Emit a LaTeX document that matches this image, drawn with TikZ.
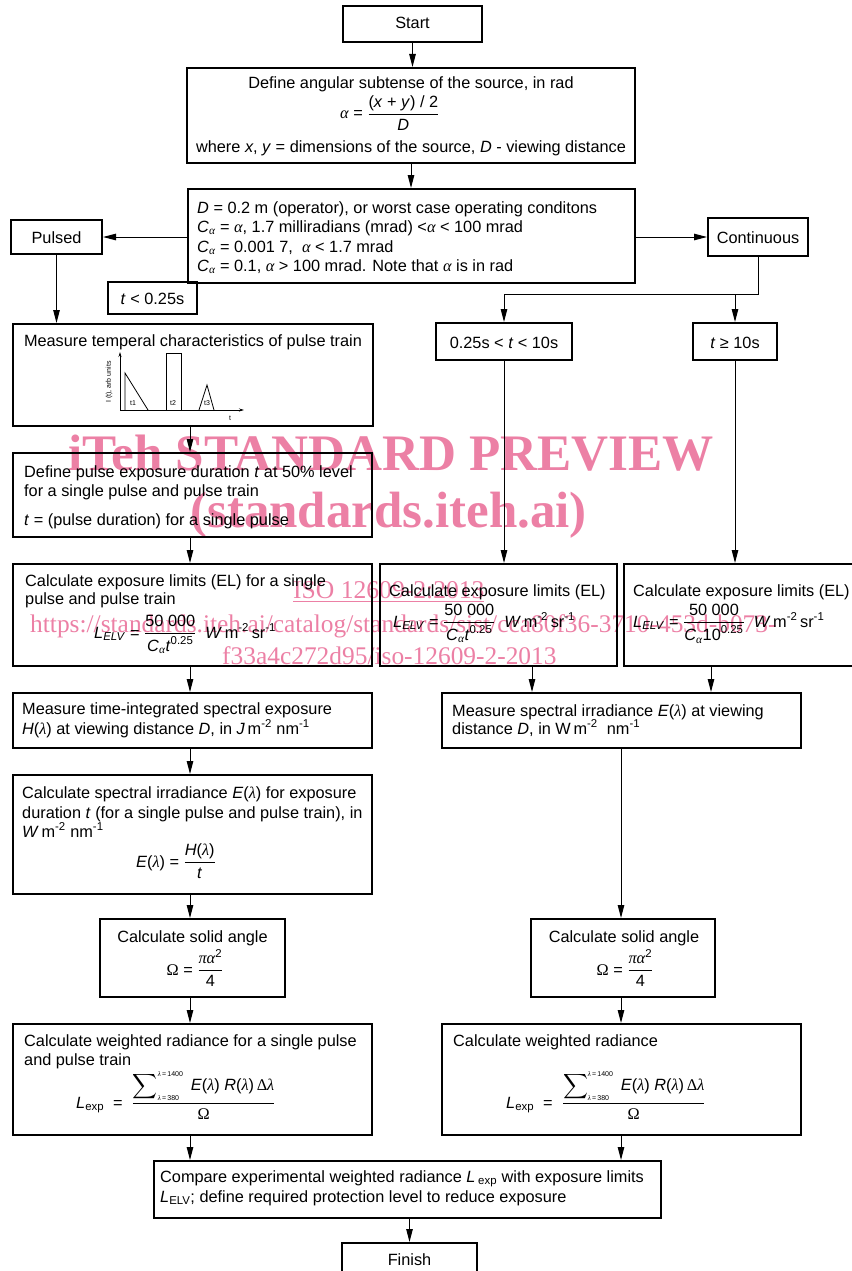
\documentclass[tikz,border=0pt]{standalone}
\usepackage{amsmath}
\usepackage{fontspec}
\setmainfont{Liberation Sans}
\newfontfamily\grk{Liberation Serif}
\newfontfamily\wmfont{Liberation Serif}
\usetikzlibrary{arrows.meta}
\definecolor{wmc}{RGB}{236,128,165}
\newcommand{\fsz}{\fontsize{16.3}{19.5}\selectfont}
\newcommand{\myal}{\text{\grk\itshape α}}
\newcommand{\mylam}{\text{\grk\itshape λ}}
\newcommand{\myOm}{\text{\grk Ω}}
\newcommand{\mypi}{\text{\grk\itshape π}}
\newcommand{\myDe}{\text{\grk Δ}}
\newcommand{\myfrac}[2]{\genfrac{}{}{0.9pt}{0}{#1}{#2}}
\newcommand{\LELV}{\textit{L}\textsubscript{\textit{ELV}}}
\newcommand{\Lsum}{$\myfrac{\displaystyle\sum\nolimits_{\text{\fontsize{7}{7}\selectfont\mylam\,=\,380}}^{\text{\fontsize{7}{7}\selectfont\mylam\,=\,1400}}\ \text{\textit{E}(\mylam)\ \textit{R}(\mylam)\,\myDe\mylam}}{\myOm}$}
\begin{document}
\begin{tikzpicture}[x=1pt,y=-1pt,
 box/.style={draw, line width=2pt, inner sep=0pt},
 lnw/.style={anchor=base west, inner sep=0pt, font=\fsz},
 lnc/.style={anchor=base, inner sep=0pt, font=\fsz},
 arr/.style={line width=1pt, -{Triangle[length=13pt,width=6.5pt]}},
 conn/.style={line width=1pt},
 gl/.style={line width=0.8pt},
 tiny/.style={inner sep=0pt, font=\fontsize{7}{7}\selectfont},
 wm/.style={anchor=base west, inner sep=0pt, text=wmc}]
\useasboundingbox (0,0) rectangle (851,1271);

% watermark (behind)
\node[wm, font=\fontsize{51.2}{51}\selectfont\wmfont\bfseries] (wm1) at (68,470) {iTeh STANDARD PREVIEW};
\node[wm, font=\fontsize{51}{51}\selectfont\wmfont\bfseries] (wm2) at (190,527) {(standards.iteh.ai)};
\node[wm, font=\fontsize{25.6}{26}\selectfont\wmfont] (wm3) at (293,598) {\underline{ISO 12609-2:2013}};
\node[wm, font=\fontsize{25.4}{26}\selectfont\wmfont] (wm4) at (30,632) {https://standards.iteh.ai/catalog/standards/sist/cca80f36-3710-453d-b073-};
\node[wm, font=\fontsize{25.4}{26}\selectfont\wmfont] (wm5) at (222,664) {f33a4c272d95/iso-12609-2-2013};

% boxes
\node[box, minimum width=139pt, minimum height=36pt] (start) at (412.5,24) {};
\node[box, minimum width=448pt, minimum height=95pt] (def) at (411,115.5) {};
\node[box, minimum width=447pt, minimum height=94pt] (dbox) at (411.5,236) {};
\node[box, minimum width=91pt, minimum height=34pt] (pulsed) at (56.5,237) {};
\node[box, minimum width=100pt, minimum height=38pt] (cont) at (758,237) {};
\node[box, minimum width=89pt, minimum height=32pt] (tlt) at (152.5,298) {};
\node[box, minimum width=360pt, minimum height=102pt] (meas1) at (193,375) {};
\node[box, minimum width=136pt, minimum height=37pt] (tmid) at (504,341.5) {};
\node[box, minimum width=84pt, minimum height=37pt] (tge) at (735,341.5) {};
\node[box, minimum width=359pt, minimum height=84pt] (defp) at (192.5,495) {};
\node[box, minimum width=359pt, minimum height=102pt] (el1) at (192.5,615) {};
\node[box, minimum width=237pt, minimum height=102pt] (el2) at (498.5,615) {};
\node[box, minimum width=229pt, minimum height=102pt] (el3) at (738.5,615) {};
\node[box, minimum width=359pt, minimum height=55pt] (mti) at (192.5,720.5) {};
\node[box, minimum width=359pt, minimum height=55pt] (msi) at (621.5,720.5) {};
\node[box, minimum width=359pt, minimum height=119pt] (csi) at (192.5,834.5) {};
\node[box, minimum width=185pt, minimum height=78pt] (sa1) at (192.5,958) {};
\node[box, minimum width=184pt, minimum height=78pt] (sa2) at (623,958) {};
\node[box, minimum width=359pt, minimum height=111pt] (wr1) at (192.5,1079.5) {};
\node[box, minimum width=359pt, minimum height=111pt] (wr2) at (621.5,1079.5) {};
\node[box, minimum width=507pt, minimum height=57pt] (cmp) at (407.5,1189.5) {};
\node[box, minimum width=135pt, minimum height=47pt] (fin) at (409.5,1266.5) {};

% texts
\node[lnc] (startt) at (412.5,29) {Start};
\node[lnc] (def1) at (411,89) {Define angular subtense of the source, in rad};
\node[lnw] (def2) at (340,119) {\myal\ = $\myfrac{\text{(\textit{x} + \textit{y}) / 2}}{\text{\textit{D}}}$};
\node[lnc] (def3) at (411,152) {where \textit{x}, \textit{y} = dimensions of the source, \textit{D} - viewing distance};

\node[lnw] (d1) at (197,213) {\textit{D} = 0.2 m (operator), or worst case operating conditons};
\node[lnw] (d2) at (197,232) {\textit{C}\textsubscript{\myal} = \myal, 1.7 milliradians (mrad) <\myal{} < 100 mrad};
\node[lnw] (d3) at (197,252) {\textit{C}\textsubscript{\myal} = 0.001 7,\ \ \myal{} < 1.7 mrad};
\node[lnw] (d4) at (197,271) {\textit{C}\textsubscript{\myal} = 0.1, \myal{} > 100 mrad. Note that \myal{} is in rad};

\node[lnc] (pulsedt) at (56.5,243) {Pulsed};
\node[lnc] (contt) at (758,243) {Continuous};
\node[lnc] (tltt) at (152.5,304) {\textit{t} < 0.25s};
\node[lnc] (tmidt) at (504,348) {0.25s < \textit{t} < 10s};
\node[lnc] (tget) at (735,348) {\textit{t} ≥ 10s};

\node[lnc] (meas1t) at (193,346) {Measure temperal characteristics of pulse train};
% pulse train sketch
\draw[gl, -{Stealth[length=5pt,width=3pt]}] (120,410) -- (120,352);
\draw[gl, -{Stealth[length=5pt,width=3pt]}] (120,410) -- (244,410);
\draw[gl] (125,410) -- (125,373) -- (148,410);
\draw[gl] (166,410) -- (166,353) -- (181,353) -- (181,410);
\draw[gl] (199,410) -- (207,385) -- (214,410);
\node[tiny] (gt1) at (133,403) {t1};
\node[tiny] (gt2) at (173,403) {t2};
\node[tiny] (gt3) at (207,403) {t3};
\node[tiny] (gtt) at (230,418) {t};
\node[tiny, rotate=90] (gy) at (109,382) {I (t), arb units};

\node[lnw] (dp1) at (24,477) {Define pulse exposure duration \textit{t} at 50\% level};
\node[lnw] (dp2) at (24,496) {for a single pulse and pulse train};
\node[lnw] (dp3) at (24,525) {\textit{t} = (pulse duration) for a single pulse};

\node[lnw] (e11) at (25,586) {Calculate exposure limits (EL) for a single};
\node[lnw] (e12) at (25,604) {pulse and pulse train};
\node[lnw] (e13) at (94,638) {\LELV\ = $\myfrac{\text{50 000}}{\text{\textit{C}}_{\myal}\text{\textit{t}}^{\text{0.25}}}$\ \ \textit{W}\,m\textsuperscript{-2}\,sr\textsuperscript{-1}};
\node[lnw] (e21) at (389,596) {Calculate exposure limits (EL)};
\node[lnw] (e22) at (393,627) {\LELV\ = $\myfrac{\text{50 000}}{\text{\textit{C}}_{\myal}\text{\textit{t}}^{\text{0.25}}}$\ \ \textit{W}\,m\textsuperscript{-2}\,sr\textsuperscript{-1}};
\node[lnw] (e31) at (633,596) {Calculate exposure limits (EL)};
\node[lnw] (e32) at (633,627) {\LELV\ = $\myfrac{\text{50 000}}{\text{\textit{C}}_{\myal}\text{10}^{\text{0.25}}}$\ \ \textit{W}\,m\textsuperscript{-2}\,sr\textsuperscript{-1}};

\node[lnw] (mt1) at (22,714) {Measure time-integrated spectral exposure};
\node[lnw] (mt2) at (22,734) {\textit{H}(\mylam) at viewing distance \textit{D}, in \textit{J}\,m\textsuperscript{-2} nm\textsuperscript{-1}};
\node[lnw] (ms1) at (452,716) {Measure spectral irradiance \textit{E}(\mylam) at viewing};
\node[lnw] (ms2) at (452,734) {distance \textit{D}, in W\,m\textsuperscript{-2}\ \ nm\textsuperscript{-1}};

\node[lnw] (cs1) at (22,798) {Calculate spectral irradiance \textit{E}(\mylam) for exposure};
\node[lnw] (cs2) at (22,818) {duration \textit{t} (for a single pulse and pulse train), in};
\node[lnw] (cs3) at (22,837) {\textit{W}\,m\textsuperscript{-2}\ nm\textsuperscript{-1}};
\node[lnw] (cs4) at (136,867) {\textit{E}(\mylam) = $\myfrac{\text{\textit{H}(\mylam)}}{\text{\textit{t}}}$};

\node[lnc] (sa1a) at (192.5,942) {Calculate solid angle};
\node[lnc] (sa1b) at (195,975) {\myOm\ = $\myfrac{\mypi\myal^{\text{2}}}{\text{4}}$};
\node[lnc] (sa2a) at (624,942) {Calculate solid angle};
\node[lnc] (sa2b) at (625,975) {\myOm\ = $\myfrac{\mypi\myal^{\text{2}}}{\text{4}}$};

\node[lnw] (w11) at (24,1046) {Calculate weighted radiance for a single pulse};
\node[lnw] (w12) at (24,1065) {and pulse train};
\node[lnw] (w13) at (76,1108) {\textit{L}\textsubscript{exp}\ \ =\ \ \Lsum};
\node[lnw] (w21) at (453,1046) {Calculate weighted radiance};
\node[lnw] (w22) at (506,1108) {\textit{L}\textsubscript{exp}\ \ =\ \ \Lsum};

\node[lnw] (c1) at (160,1182) {Compare experimental weighted radiance \textit{L}\,\textsubscript{exp} with exposure limits};
\node[lnw] (c2) at (160,1202) {\textit{L}\textsubscript{ELV}; define required protection level to reduce exposure};
\node[lnc] (fint) at (409.5,1265) {Finish};

% connectors
\coordinate (cl) at (190,0);
\coordinate (cr) at (621,0);
\coordinate (cm) at (532,0);
\coordinate (cq) at (711,0);
\coordinate (jn) at (0,294);
\draw[arr] (start.south) -- (start.south |- def.north);
\draw[arr] (def.south) -- (def.south |- dbox.north);
\draw[arr] (dbox.west |- pulsed) -- (pulsed.east);
\draw[arr] (dbox.east |- cont) -- (cont.west);
\draw[arr] (pulsed.south) -- (pulsed.south |- meas1.north);
\draw[conn] (cont.south) -- (cont.south |- jn) -- (tmid.north |- jn);
\draw[arr] (tmid.north |- jn) -- (tmid.north);
\draw[arr] (tge.north |- jn) -- (tge.north);
\draw[arr] (meas1.south -| cl) -- (defp.north -| cl);
\draw[arr] (defp.south -| cl) -- (el1.north -| cl);
\draw[arr] (tmid.south) -- (tmid.south |- el2.north);
\draw[arr] (tge.south) -- (tge.south |- el3.north);
\draw[arr] (el1.south -| cl) -- (mti.north -| cl);
\draw[arr] (el2.south -| cm) -- (msi.north -| cm);
\draw[arr] (el3.south -| cq) -- (msi.north -| cq);
\draw[arr] (mti.south -| cl) -- (csi.north -| cl);
\draw[arr] (csi.south -| cl) -- (sa1.north -| cl);
\draw[arr] (msi.south -| cr) -- (sa2.north -| cr);
\draw[arr] (sa1.south -| cl) -- (wr1.north -| cl);
\draw[arr] (sa2.south -| cr) -- (wr2.north -| cr);
\draw[arr] (wr1.south -| cl) -- (cmp.north -| cl);
\draw[arr] (wr2.south -| cr) -- (cmp.north -| cr);
\draw[arr] (cmp.south -| fin.north) -- (fin.north);
\end{tikzpicture}
\end{document}
